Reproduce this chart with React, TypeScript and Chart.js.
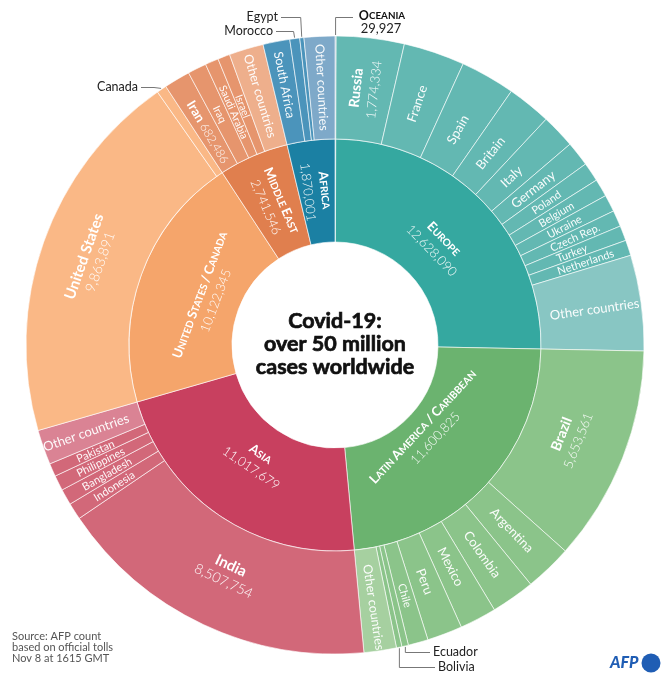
import React, { useEffect, useRef } from 'react';
import { Chart, registerables } from 'chart.js';
Chart.register(...registerables);

// ---------------- data ----------------
const regionNames = ['Oceania', 'Europe', 'Latin America / Caribbean', 'Asia', 'United States / Canada', 'Middle East', 'Africa'];
const regionValues = [29927, 12628090, 11600825, 11017679, 10122345, 2741546, 1870001];

const oceaniaCountries = ['Oceania'];
const oceaniaValues = [29927];
const europeCountries = ['Russia', 'France', 'Spain', 'Britain', 'Italy', 'Germany', 'Poland', 'Belgium', 'Ukraine', 'Czech Rep.', 'Turkey', 'Netherlands', 'Other countries'];
const europeValues = [1774334, 1600000, 1430000, 1150000, 890000, 650000, 500000, 465000, 445000, 425000, 395000, 405000, 2498756];
const latinCountries = ['Brazil', 'Argentina', 'Colombia', 'Mexico', 'Peru', 'Chile', 'Ecuador', 'Bolivia', 'Other countries'];
const latinValues = [5653561, 1236851, 1143887, 961938, 920891, 522000, 172000, 142000, 847697];
const asiaCountries = ['India', 'Indonesia', 'Bangladesh', 'Philippines', 'Pakistan', 'Other countries'];
const asiaValues = [8507754, 437716, 418764, 398449, 344015, 910981];
const northAmericaCountries = ['United States', 'Canada'];
const northAmericaValues = [9863891, 258454];
const middleEastCountries = ['Iran', 'Iraq', 'Saudi Arabia', 'Israel', 'Other countries'];
const middleEastValues = [682486, 490000, 350000, 318000, 901060];
const africaCountries = ['South Africa', 'Morocco', 'Egypt', 'Other countries'];
const africaValues = [700000, 259000, 109000, 802001];

const countryGroups = [oceaniaCountries, europeCountries, latinCountries, asiaCountries, northAmericaCountries, middleEastCountries, africaCountries];
const valueGroups = [oceaniaValues, europeValues, latinValues, asiaValues, northAmericaValues, middleEastValues, africaValues];

// ---------------- styles ----------------
const regionColors = ['#86a6bf', '#35a8a0', '#6bb36f', '#c8405f', '#f5a56b', '#e07f4e', '#1b80a3'];
const countryColors = ['#8eaac2', '#63b8b2', '#8bc48a', '#d26879', '#fab886', '#e6956d', '#4b94bb'];
const otherColors = ['#8eaac2', '#88c6c3', '#a6d0a0', '#da8394', '#fab886', '#eeaf8c', '#7ea9c9'];

const FONT = 'Lato, "Open Sans", sans-serif';

type Spec = { mode?: 'radial' | 'tangential'; s?: number; bold?: boolean; value?: 'below' | 'inline'; vs?: number; r?: number; lh?: number; hide?: boolean };

const outerSpecs: Record<string, Spec> = {
  'Oceania|Oceania': { hide: true },
  'Europe|Russia': { s: 14, bold: true, value: 'below', vs: 13, r: 258, lh: 18 },
  'Europe|France': { s: 13, r: 255 },
  'Europe|Spain': { s: 13, r: 248 },
  'Europe|Britain': { s: 13, r: 247 },
  'Europe|Italy': { s: 13, r: 244 },
  'Europe|Germany': { s: 13, r: 252 },
  'Europe|Poland': { s: 11, r: 255 },
  'Europe|Belgium': { s: 11, r: 257 },
  'Europe|Ukraine': { s: 11, r: 258 },
  'Europe|Czech Rep.': { s: 11, r: 263 },
  'Europe|Turkey': { s: 11, r: 254 },
  'Europe|Netherlands': { s: 11, r: 264 },
  'Europe|Other countries': { s: 13, r: 262 },
  'Latin America / Caribbean|Brazil': { mode: 'tangential', s: 14, bold: true, value: 'below', vs: 13, r: 252, lh: 18 },
  'Latin America / Caribbean|Argentina': { s: 13, r: 256 },
  'Latin America / Caribbean|Colombia': { s: 13, r: 256 },
  'Latin America / Caribbean|Mexico': { s: 13, r: 250 },
  'Latin America / Caribbean|Peru': { s: 13, r: 253 },
  'Latin America / Caribbean|Chile': { s: 11, r: 260 },
  'Latin America / Caribbean|Ecuador': { hide: true },
  'Latin America / Caribbean|Bolivia': { hide: true },
  'Latin America / Caribbean|Other countries': { s: 12.5, r: 265 },
  'Asia|India': { mode: 'tangential', s: 15, bold: true, value: 'below', vs: 14, r: 252, lh: 17 },
  'Asia|Indonesia': { s: 11, r: 262 },
  'Asia|Bangladesh': { s: 11, r: 262 },
  'Asia|Philippines': { s: 11, r: 262 },
  'Asia|Pakistan': { s: 11, r: 262 },
  'Asia|Other countries': { s: 13, r: 264 },
  'United States / Canada|United States': { mode: 'tangential', s: 15, bold: true, value: 'below', vs: 14, r: 258, lh: 17 },
  'United States / Canada|Canada': { hide: true },
  'Middle East|Iran': { s: 13, bold: true, value: 'inline', vs: 12, r: 248 },
  'Middle East|Iraq': { s: 10.5, r: 258 },
  'Middle East|Saudi Arabia': { s: 10.5, r: 254 },
  'Middle East|Israel': { s: 10.5, r: 256 },
  'Middle East|Other countries': { s: 12.5, r: 260 },
  'Africa|South Africa': { s: 12.5, r: 265 },
  'Africa|Morocco': { hide: true },
  'Africa|Egypt': { hide: true },
  'Africa|Other countries': { s: 12.5, r: 258 },
};

const innerSpecs: Record<string, Spec> = {
  'Oceania': { hide: true },
  'Europe': { mode: 'tangential', r: 144 },
  'Latin America / Caribbean': { mode: 'tangential', r: 128 },
  'Asia': { mode: 'tangential', r: 140 },
  'United States / Canada': { mode: 'tangential', r: 136 },
  'Middle East': { mode: 'radial', r: 154 },
  'Africa': { mode: 'radial', r: 155 },
};

// ---------------- helpers ----------------
type Run = { t: string; s: number; b?: boolean; w?: number; a?: number };
const fontOf = (r: Run) => `${r.w ? r.w + ' ' : r.b ? 'bold ' : ''}${r.s}px ${FONT}`;
const fmt = (v: number) => v.toLocaleString('en-US');

function lineWidth(ctx: CanvasRenderingContext2D, runs: Run[]) {
  let w = 0;
  for (const r of runs) { ctx.font = fontOf(r); w += ctx.measureText(r.t).width; }
  return w;
}

function drawLine(ctx: CanvasRenderingContext2D, runs: Run[], x0: number, y: number, align: 'center' | 'left' | 'right', stroke = 0) {
  const w = lineWidth(ctx, runs);
  let x = align === 'center' ? x0 - w / 2 : align === 'right' ? x0 - w : x0;
  for (const r of runs) {
    ctx.font = fontOf(r);
    ctx.globalAlpha = r.a ?? 1;
    ctx.fillText(r.t, x, y);
    if (stroke > 0) {
      ctx.lineWidth = stroke;
      ctx.strokeStyle = ctx.fillStyle as string;
      ctx.strokeText(r.t, x, y);
    }
    x += ctx.measureText(r.t).width;
  }
  ctx.globalAlpha = 1;
}

function smallCaps(text: string, S: number, a = 1): Run[] {
  const runs: Run[] = [];
  for (const ch of text) {
    const big = ch !== ch.toLowerCase() || ch === '/';
    const size = big ? S : Math.round(S * 0.78 * 10) / 10;
    const last = runs[runs.length - 1];
    if (last && last.s === size) last.t += ch.toUpperCase();
    else runs.push({ t: ch.toUpperCase(), s: size, b: true, a });
  }
  return runs;
}

function norm(a: number) {
  while (a <= -Math.PI) a += 2 * Math.PI;
  while (a > Math.PI) a -= 2 * Math.PI;
  return a;
}
function rotFor(mode: 'radial' | 'tangential', phi: number) {
  const p = norm(phi);
  if (mode === 'radial') return p > -Math.PI / 2 && p < Math.PI / 2 ? p : p + Math.PI;
  return p < 0 ? p + Math.PI / 2 : p - Math.PI / 2;
}

function drawBlock(ctx: CanvasRenderingContext2D, x: number, y: number, rot: number, lines: Run[][], lh: number) {
  ctx.save();
  ctx.translate(x, y);
  ctx.rotate(rot);
  ctx.fillStyle = '#ffffff';
  ctx.textBaseline = 'alphabetic';
  ctx.textAlign = 'left';
  const n = lines.length;
  lines.forEach((ln, i) => {
    const maxS = Math.max(...ln.map((r) => r.s));
    drawLine(ctx, ln, 0, (i - (n - 1) / 2) * lh + maxS * 0.36, 'center');
  });
  ctx.restore();
}

// ---------------- build data ----------------
const outerLabels: string[] = [];
const outerValues: number[] = [];
const outerRegion: number[] = [];
const outerBg: string[] = [];
countryGroups.forEach((cs, gi) => {
  cs.forEach((c, ci) => {
    outerLabels.push(c);
    outerValues.push(valueGroups[gi][ci]);
    outerRegion.push(gi);
    outerBg.push(c === 'Other countries' ? otherColors[gi] : countryColors[gi]);
  });
});

const labelPlugin = {
  id: 'sunburstLabels',
  afterDraw(chart: any) {
    const ctx: CanvasRenderingContext2D = chart.ctx;
    const outerMeta = chart.getDatasetMeta(0);
    const innerMeta = chart.getDatasetMeta(1);

    // outer ring labels
    outerMeta.data.forEach((arc: any, i: number) => {
      const key = `${regionNames[outerRegion[i]]}|${outerLabels[i]}`;
      const sp = outerSpecs[key] || {};
      if (sp.hide) return;
      const p = arc.getProps(['x', 'y', 'startAngle', 'endAngle', 'innerRadius', 'outerRadius'], true);
      const mid = (p.startAngle + p.endAngle) / 2;
      const r = sp.r ?? (p.innerRadius + p.outerRadius) / 2;
      const s = sp.s ?? 12;
      const nameRun: Run = { t: outerLabels[i], s, b: !!sp.bold };
      let lines: Run[][];
      if (sp.value === 'below') lines = [[nameRun], [{ t: fmt(outerValues[i]), s: sp.vs ?? s, w: 300, a: 0.95 }]];
      else if (sp.value === 'inline') lines = [[nameRun, { t: ' ' + fmt(outerValues[i]), s: sp.vs ?? s, w: 300, a: 0.95 }]];
      else lines = [[{ ...nameRun, a: 0.95 }]];
      drawBlock(ctx, p.x + Math.cos(mid) * r, p.y + Math.sin(mid) * r, rotFor(sp.mode ?? 'radial', mid), lines, sp.lh ?? 16);
    });

    // inner ring labels
    innerMeta.data.forEach((arc: any, i: number) => {
      const sp = innerSpecs[regionNames[i]] || {};
      if (sp.hide) return;
      const p = arc.getProps(['x', 'y', 'startAngle', 'endAngle', 'innerRadius', 'outerRadius'], true);
      const mid = (p.startAngle + p.endAngle) / 2;
      const r = sp.r ?? (p.innerRadius + p.outerRadius) / 2;
      const lines = [smallCaps(regionNames[i], 13), [{ t: fmt(regionValues[i]), s: 13, w: 300, a: 0.95 }]];
      drawBlock(ctx, p.x + Math.cos(mid) * r, p.y + Math.sin(mid) * r, rotFor(sp.mode ?? 'radial', mid), lines, 17);
    });

    const edge = (name: string, region: string): [number, number] => {
      const idx = outerLabels.findIndex((c, k) => c === name && regionNames[outerRegion[k]] === region);
      const arc = outerMeta.data[idx];
      const p = arc.getProps(['x', 'y', 'startAngle', 'endAngle', 'outerRadius'], true);
      const mid = (p.startAngle + p.endAngle) / 2;
      return [p.x + Math.cos(mid) * (p.outerRadius + 1), p.y + Math.sin(mid) * (p.outerRadius + 1)];
    };
    const poly = (pts: [number, number][]) => {
      ctx.beginPath();
      pts.forEach(([x, y], k) => (k ? ctx.lineTo(x, y) : ctx.moveTo(x, y)));
      ctx.stroke();
    };

    ctx.save();
    ctx.strokeStyle = '#777';
    ctx.lineWidth = 1;
    const ca = edge('Canada', 'United States / Canada');
    poly([ca, [154, 87.5], [141, 87.5]]);
    const eg = edge('Egypt', 'Africa');
    poly([eg, [eg[0] - 1, 17.5], [281, 17.5]]);
    const mo = edge('Morocco', 'Africa');
    poly([mo, [mo[0] - 1, 31.5], [276, 31.5]]);
    const oc = edge('Oceania', 'Oceania');
    poly([oc, [oc[0], 17.5], [353, 17.5]]);
    const ec = edge('Ecuador', 'Latin America / Caribbean');
    poly([ec, [ec[0], 652.5], [430, 652.5]]);
    const bo = edge('Bolivia', 'Latin America / Caribbean');
    poly([bo, [bo[0], 667.5], [435, 667.5]]);

    ctx.fillStyle = '#222';
    ctx.textBaseline = 'middle';
    const ann = (t: string, x: number, y: number, align: 'left' | 'right' | 'center', s = 12.5) => {
      drawLine(ctx, [{ t, s }], x, y, align);
    };
    ann('Canada', 138, 87, 'right');
    ann('Egypt', 278, 17, 'right');
    ann('Morocco', 273, 31, 'right');
    ann('Ecuador', 433, 652, 'left');
    ann('Bolivia', 438, 667, 'left');
    ctx.fillStyle = '#111';
    drawLine(ctx, smallCaps('Oceania', 12.5), 382, 16, 'center');
    ctx.fillStyle = '#222';
    ann(fmt(oceaniaValues[0]), 381, 29, 'center', 13);

    // center title
    ctx.fillStyle = '#111111';
    const tx = chart.chartArea;
    const cx = (tx.left + tx.right) / 2;
    const cy = (tx.top + tx.bottom) / 2;
    drawLine(ctx, [{ t: 'Covid-19:', s: 21.5, b: true }], cx, cy - 24, 'center', 0.7);
    drawLine(ctx, [{ t: 'over 50 million', s: 21.5, b: true }], cx, cy - 1, 'center', 0.7);
    drawLine(ctx, [{ t: 'cases worldwide', s: 21.5, b: true }], cx, cy + 22, 'center', 0.7);

    // source
    ctx.fillStyle = '#555';
    ann('Source: AFP count', 12, 636, 'left', 11);
    ann('based on official tolls', 12, 647, 'left', 11);
    ann('Nov 8 at 1615 GMT', 12, 658, 'left', 11);

    // AFP logo
    ctx.fillStyle = '#1f5db4';
    ctx.font = `italic 900 16px ${FONT}`;
    ctx.textAlign = 'left';
    ctx.textBaseline = 'alphabetic';
    ctx.fillText('AFP', 610, 668);
    ctx.beginPath();
    ctx.arc(651, 663, 9.5, 0, Math.PI * 2);
    ctx.fill();
    ctx.restore();
  },
};

export default function App() {
  const ref = useRef<HTMLCanvasElement>(null);
  useEffect(() => {
    if (!ref.current) return;
    const chart = new Chart(ref.current, {
      type: 'doughnut',
      data: {
        labels: outerLabels,
        datasets: [
          { data: outerValues, backgroundColor: outerBg, borderColor: 'rgba(255,255,255,0.6)', borderWidth: 1 },
          { data: regionValues, backgroundColor: regionColors, borderColor: 'rgba(255,255,255,0.6)', borderWidth: 1 },
        ],
      },
      options: {
        responsive: false,
        animation: false,
        events: [],
        cutout: '33.333%',
        radius: 309,
        rotation: 0,
        layout: { padding: { top: 10, bottom: 0, left: 0, right: 0 } },
        plugins: { legend: { display: false }, tooltip: { enabled: false }, title: { display: false } },
      } as any,
      plugins: [labelPlugin],
    });
    return () => chart.destroy();
  }, []);
  return (
    <div style={{ position: 'fixed', left: 0, top: 0, width: 670, height: 680, background: '#fff' }}>
      <canvas ref={ref} width={670} height={680} style={{ display: 'block' }} />
    </div>
  );
}
